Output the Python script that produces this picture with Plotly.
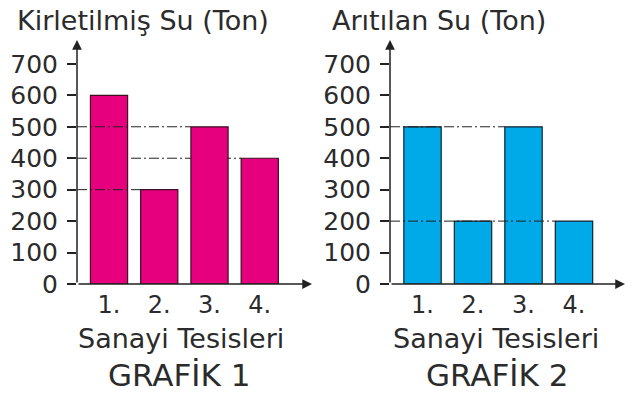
import plotly.graph_objects as go

# ---- data ----
categories = ["1.", "2.", "3.", "4."]
positions = [1, 2, 3, 4]
kirletilmis = [600, 300, 500, 400]   # Grafik 1
aritilan = [500, 200, 500, 200]      # Grafik 2
y_ticks = [0, 100, 200, 300, 400, 500, 600, 700]
title1 = "Kirletilmiş Su (Ton)"
title2 = "Arıtılan Su (Ton)"
xlabel = "Sanayi Tesisleri"
caption1 = "GRAFİK 1"
caption2 = "GRAFİK 2"
# reference (dash-dot) lines: (value, index of bar it runs to, drawn above bars?)
guides1 = [(500, 2, True), (400, 3, False), (300, 1, True)]
guides2 = [(500, 2, True), (200, 3, True)]

W, H = 640, 401
FONT = "DejaVu Sans"
TXT = "#2b2b2b"
BAR_W = 0.74
xr1 = [0.363, 5.04]
xr2 = [0.356, 5.01]
yr = [0, 776]

def px_x(p):
    return p / W

def px_y(p):
    return 1 - p / H

fig = go.Figure()
fig.add_trace(go.Bar(x=positions, y=kirletilmis, width=BAR_W, xaxis="x", yaxis="y",
                     marker=dict(color="#E6007E", line=dict(color="#3a1020", width=1.2)),
                     hoverinfo="skip"))
fig.add_trace(go.Bar(x=positions, y=aritilan, width=BAR_W, xaxis="x2", yaxis="y2",
                     marker=dict(color="#00AAE9", line=dict(color="#10222e", width=1.2)),
                     hoverinfo="skip"))

ydom = [px_y(284), px_y(40)]
common_x = dict(showgrid=False, zeroline=False, showline=False, ticks="", automargin=False,
                tickvals=positions, ticktext=categories,
                tickfont=dict(family=FONT, size=24, color=TXT), ticklabelstandoff=4)
common_y = dict(showgrid=False, zeroline=False, showline=False, range=yr, automargin=False,
                tickvals=y_ticks, ticks="outside", ticklen=9, tickwidth=1.5, tickcolor="#222",
                tickfont=dict(family=FONT, size=25, color=TXT), ticklabelstandoff=4)

fig.update_layout(
    template="none",
    width=W, height=H, margin=dict(l=0, r=0, t=0, b=0, autoexpand=False),
    paper_bgcolor="white", plot_bgcolor="white", showlegend=False, barmode="overlay",
    xaxis=dict(domain=[px_x(77), px_x(312)], range=xr1, anchor="y", **common_x),
    yaxis=dict(domain=ydom, anchor="x", **common_y),
    xaxis2=dict(domain=[px_x(390), px_x(625)], range=xr2, anchor="y2", **common_x),
    yaxis2=dict(domain=ydom, anchor="x2", **common_y),
)

shapes = []
annotations = []
for xa, ya, xr, vals, guides in [("x", "y", xr1, kirletilmis, guides1),
                                  ("x2", "y2", xr2, aritilan, guides2)]:
    # guide lines
    for val, idx, above in guides:
        shapes.append(dict(type="line", xref=xa, yref=ya, x0=xr[0], x1=positions[idx] - BAR_W / 2,
                           y0=val, y1=val, layer="above" if above else "below",
                           line=dict(color="#222", width=1, dash="10px,3px,2px,3px")))
    # axes with arrows
    annotations.append(dict(xref=xa, yref=ya, axref=xa, ayref=ya, x=xr[1], y=0, ax=xr[0], ay=0,
                            text="", showarrow=True, arrowhead=2, arrowsize=1.3, arrowwidth=1.5,
                            arrowcolor="#222", standoff=0))
    annotations.append(dict(xref=xa, yref=ya, axref=xa, ayref=ya, x=xr[0], y=yr[1], ax=xr[0], ay=0,
                            text="", showarrow=True, arrowhead=2, arrowsize=1.3, arrowwidth=1.5,
                            arrowcolor="#222", standoff=0))

def txt(s, x, y, size, anchor="center"):
    return dict(text=s, xref="paper", yref="paper", x=px_x(x), y=px_y(y), xanchor=anchor,
                yanchor="middle", showarrow=False, font=dict(family=FONT, size=size, color=TXT))

annotations += [
    txt(title1, 15, 21, 27, "left"),
    txt(title2, 330, 21, 27, "left"),
    txt(xlabel, 181, 338, 27),
    txt(xlabel, 496, 338, 27),
    txt(caption1, 179, 375, 31),
    txt(caption2, 497, 375, 31),
]
fig.update_layout(shapes=shapes, annotations=annotations)
fig.write_html("out.html", config={"displayModeBar": False},
               post_script="document.body.style.margin='0';document.body.style.padding='0';")
